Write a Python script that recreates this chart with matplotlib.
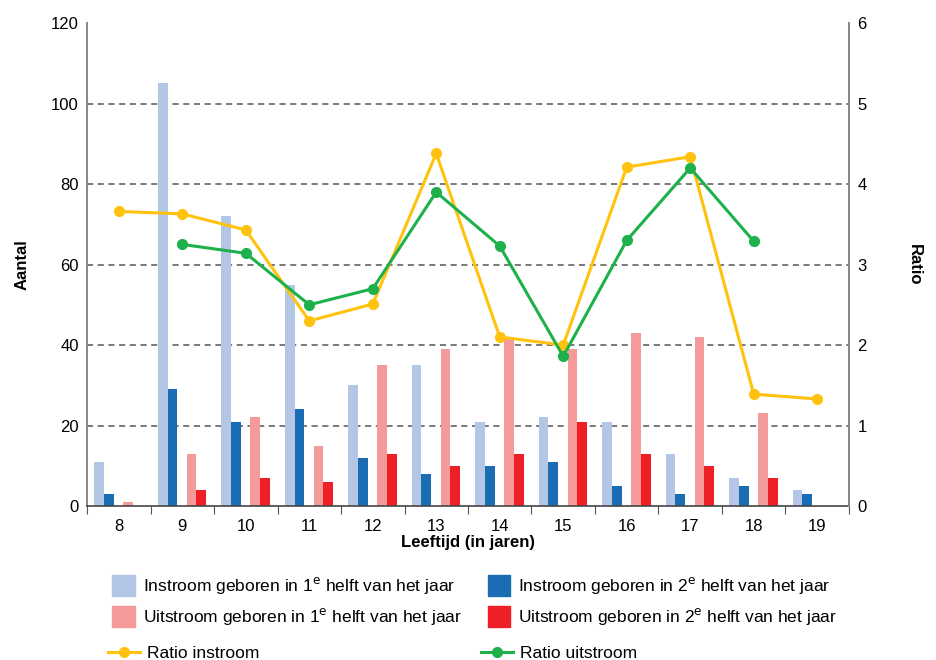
import numpy as np
import matplotlib
matplotlib.use('Agg')
import matplotlib.pyplot as plt
from matplotlib.patches import Patch
from matplotlib.lines import Line2D

plt.rcParams['font.family'] = ['Liberation Sans', 'DejaVu Sans']

# data
leeftijd = ['8', '9', '10', '11', '12', '13', '14', '15', '16', '17', '18', '19']
instroom_1e = [11, 105, 72, 55, 30, 35, 21, 22, 21, 13, 7, 4]
instroom_2e = [3, 29, 21, 24, 12, 8, 10, 11, 5, 3, 5, 3]
uitstroom_1e = [1, 13, 22, 15, 35, 39, 42, 39, 43, 42, 23, 0]
uitstroom_2e = [0, 4, 7, 6, 13, 10, 13, 21, 13, 10, 7, 0]
ratio_instroom = [3.66, 3.63, 3.43, 2.30, 2.51, 4.38, 2.10, 2.00, 4.21, 4.34, 1.39, 1.33]
ratio_uitstroom = [np.nan, 3.25, 3.14, 2.50, 2.70, 3.90, 3.23, 1.86, 3.30, 4.20, 3.29, np.nan]

c_lb = '#b3c6e6'
c_db = '#1a6db5'
c_pk = '#f49a9a'
c_rd = '#ee1f25'
c_yl = '#ffc20e'
c_gr = '#1db04b'

fig = plt.figure(figsize=(9.36, 6.6), dpi=100)
ax = fig.add_axes([0.093, 0.2333, 0.814, 0.7317])
x = np.arange(len(leeftijd))
w = 0.155
ax.bar(x - 0.31, instroom_1e, w, color=c_lb, zorder=2)
ax.bar(x - 0.155, instroom_2e, w, color=c_db, zorder=2)
ax.bar(x + 0.145, uitstroom_1e, w, color=c_pk, zorder=2)
ax.bar(x + 0.30, uitstroom_2e, w, color=c_rd, zorder=2)

ax.set_xlim(-0.5, len(leeftijd) - 0.5)
ax.set_ylim(0, 120)
ax.set_yticks(range(0, 121, 20))
for yv in range(20, 101, 20):
    ax.axhline(yv, color='#555555', linestyle=(0, (4, 3)), linewidth=1.1, zorder=1)

ax.set_xticks(np.arange(-0.5, len(leeftijd), 1))
ax.set_xticklabels([])
ax.set_xticks(x, minor=True)
ax.set_xticklabels(leeftijd, minor=True)
ax.tick_params(axis='x', which='major', length=6, color='#555555')
ax.tick_params(axis='x', which='minor', length=0, labelsize=12, pad=9)
ax.tick_params(axis='y', length=0, labelsize=12, pad=6)

ax.spines['top'].set_visible(False)
ax.spines['left'].set_color('#888888')
ax.spines['right'].set_color('#888888')
ax.spines['bottom'].set_color('#444444')
ax.spines['left'].set_linewidth(1.4)
ax.spines['right'].set_linewidth(1.4)
ax.spines['bottom'].set_linewidth(1.2)

ax.set_xlabel('Leeftijd (in jaren)', fontsize=12, fontweight='bold', labelpad=1)
ax.set_ylabel('Aantal', fontsize=12, fontweight='bold', labelpad=15)

ax2 = ax.twinx()
ax2.plot(x, ratio_instroom, color=c_yl, marker='o', markersize=7, linewidth=2.2, zorder=3)
ax2.plot(x, ratio_uitstroom, color=c_gr, marker='o', markersize=7, linewidth=2.2, zorder=3)
ax2.set_ylim(0, 6)
ax2.set_yticks(range(0, 7))
ax2.tick_params(axis='y', length=0, labelsize=12, pad=6)
ax2.spines['top'].set_visible(False)
ax2.spines['right'].set_color('#888888')
ax2.spines['right'].set_linewidth(1.4)
ax2.spines['left'].set_visible(False)
ax2.spines['bottom'].set_visible(False)
ax2.set_ylabel('Ratio', fontsize=12, fontweight='bold', rotation=270, labelpad=40)

# legends
bar_handles = [Patch(color=c_lb), Patch(color=c_pk), Patch(color=c_db), Patch(color=c_rd)]
bar_labels = ['Instroom geboren in 1$^{\\mathrm{e}}$ helft van het jaar',
              'Uitstroom geboren in 1$^{\\mathrm{e}}$ helft van het jaar',
              'Instroom geboren in 2$^{\\mathrm{e}}$ helft van het jaar',
              'Uitstroom geboren in 2$^{\\mathrm{e}}$ helft van het jaar']
leg1 = fig.legend(bar_handles, bar_labels, ncol=2, loc='upper left',
                  bbox_to_anchor=(0.12, 0.129), frameon=False, fontsize=12.5,
                  handlelength=1.3, handleheight=1.5, handletextpad=0.45,
                  labelspacing=0.55, columnspacing=1.5, borderpad=0, borderaxespad=0)
line_handles = [Line2D([], [], color=c_yl, marker='o', markersize=7, linewidth=2.2),
                Line2D([], [], color=c_gr, marker='o', markersize=7, linewidth=2.2)]
leg2 = fig.legend(line_handles, ['Ratio instroom', 'Ratio uitstroom'], ncol=2, loc='upper left',
                  bbox_to_anchor=(0.115, 0.022), frameon=False, fontsize=12.5,
                  handlelength=1.85, handletextpad=0.4, columnspacing=12.8,
                  borderpad=0, borderaxespad=0)

fig.savefig('out.png', dpi=100)
